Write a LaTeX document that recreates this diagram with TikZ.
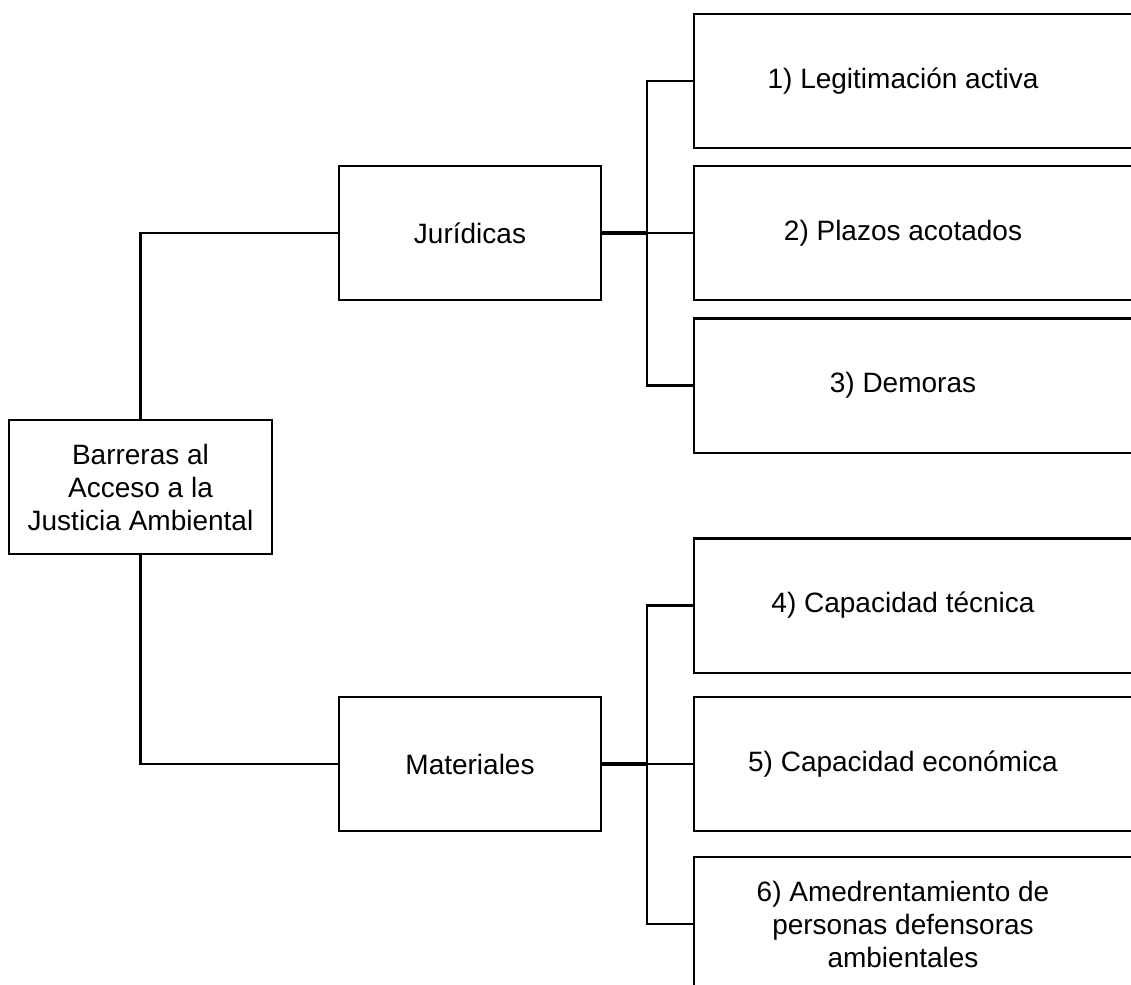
\documentclass[tikz,border=0pt]{standalone}
\usepackage{fontspec}
\setmainfont{Liberation Sans}
\begin{document}
\begin{tikzpicture}[x=1pt,y=-1pt,
  txt/.style={font=\fontsize{28}{33}\selectfont, align=center, inner sep=0pt},
  box/.style={txt, draw, line width=2.4pt, minimum height=134pt},
  leaf/.style={txt, minimum width=418pt, minimum height=134pt},
  link/.style={line width=2.4pt},
  trunk/.style={line width=3.6pt},
]
\useasboundingbox (0,0) rectangle (1131,984);
\clip (0,0) rectangle (1131,984);

% root and the two categories
\node[box, minimum width=263pt] (root) at (140.5,487) {Barreras al\\Acceso a la\\Justicia Ambiental};
\node[box, minimum width=262pt] (jur) at (470,233) {Jurídicas};
\node[box, minimum width=262pt] (mat) at (470,764) {Materiales};

% leaves (their right side runs off the page)
\node[leaf] (l1) at (903,81)    {1) Legitimación activa};
\node[leaf] (l2) at (903,233)   {2) Plazos acotados};
\node[leaf] (l3) at (903,385.5) {3) Demoras};
\node[leaf] (l4) at (903,605.5) {4) Capacidad técnica};
\node[leaf] (l5) at (903,764)   {5) Capacidad económica};
\node[leaf] (l6) at (903,924)   {6) Amedrentamiento de\\personas defensoras\\ambientales};

\foreach \n in {l1,l2,l3,l4,l5,l6}{
  \draw[link] ([xshift=80pt]\n.north east) -- (\n.north west) -- (\n.south west) -- ([xshift=80pt]\n.south east);
}

% connectors
\draw[link] (root.north) |- (jur.west);
\draw[link] (root.south) |- (mat.west);

\coordinate (jbus) at (647,233);
\coordinate (mbus) at (647,764);
\draw[trunk] (jur.east) -- (jbus);
\draw[trunk] (mat.east) -- (mbus);
\draw[link] (jbus) -- (l2.west);
\draw[link] (mbus) -- (l5.west);
\draw[link] (l1.west) -| (jbus) |- (l3.west);
\draw[link] (l4.west) -| (mbus) |- (l6.west);
\end{tikzpicture}
\end{document}
